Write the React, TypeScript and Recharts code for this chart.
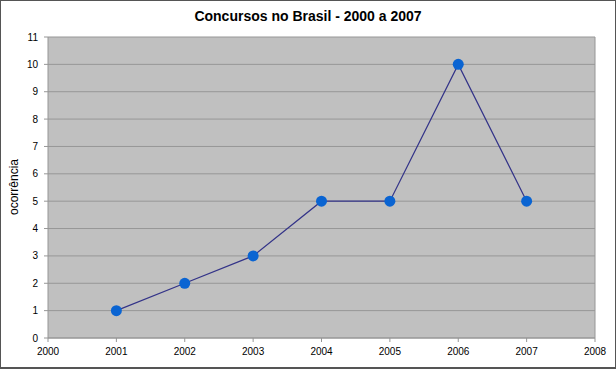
import React from "react"
import {
  LineChart,
  Line,
  XAxis,
  YAxis,
  CartesianGrid,
  ReferenceLine,
} from "recharts"

const years = [2001, 2002, 2003, 2004, 2005, 2006, 2007]
const ocorrencias = [1, 2, 3, 5, 5, 10, 5]
const xTicks = [2000, 2001, 2002, 2003, 2004, 2005, 2006, 2007, 2008]
const yTicks = [0, 1, 2, 3, 4, 5, 6, 7, 8, 9, 10, 11]

const data = years.map((year, i) => ({ year, value: ocorrencias[i] }))

const font = "'Liberation Sans', Arial, sans-serif"

const App = () => {
  return (
    <div
      style={{
        position: "absolute",
        left: 0,
        top: 0,
        width: 616,
        height: 369,
        background: "#fff",
        fontFamily: font,
      }}
    >
      <div
        style={{
          position: "absolute",
          left: 0,
          top: 0,
          width: 614,
          height: 366,
          border: "1px solid #555",
          borderBottomWidth: 2,
          pointerEvents: "none",
        }}
      />
      <div
        style={{
          position: "absolute",
          top: 8,
          left: 0,
          width: 616,
          textAlign: "center",
          fontSize: 14,
          fontWeight: "bold",
          color: "#000",
        }}
      >
        Concursos no Brasil - 2000 a 2007
      </div>
      <div
        style={{
          position: "absolute",
          left: 14,
          top: 187,
          transform: "translate(-50%, -50%) rotate(-90deg)",
          fontSize: 12,
          color: "#000",
          whiteSpace: "nowrap",
        }}
      >
        ocorrência
      </div>
      <LineChart
        width={616}
        height={369}
        data={data}
        margin={{ top: 37, right: 21, left: 0, bottom: 0 }}
      >
        <CartesianGrid fill="#C0C0C0" fillOpacity={1} stroke="#969696" vertical={false} />
        <XAxis
          dataKey="year"
          type="number"
          domain={[2000, 2008]}
          ticks={xTicks}
          height={31}
          interval={0}
          axisLine={{ stroke: "#969696" }}
          tickLine={{ stroke: "#969696" }}
          tickSize={4}
          tickMargin={6}
          tick={{ fontSize: 10, fill: "#000", fontFamily: font }}
        />
        <YAxis
          type="number"
          domain={[0, 11]}
          ticks={yTicks}
          width={48}
          interval={0}
          axisLine={{ stroke: "#969696" }}
          tickLine={{ stroke: "#969696" }}
          tickSize={4}
          tickMargin={6}
          tick={{ fontSize: 10, fill: "#000", fontFamily: font }}
        />
        <ReferenceLine x={2008} stroke="#969696" />
        <Line
          type="linear"
          dataKey="value"
          stroke="#333388"
          strokeWidth={1.2}
          dot={{ r: 5.5, fill: "#0A64D2", stroke: "#0A64D2", strokeWidth: 0 }}
          isAnimationActive={false}
        />
      </LineChart>
    </div>
  )
}

export default App
